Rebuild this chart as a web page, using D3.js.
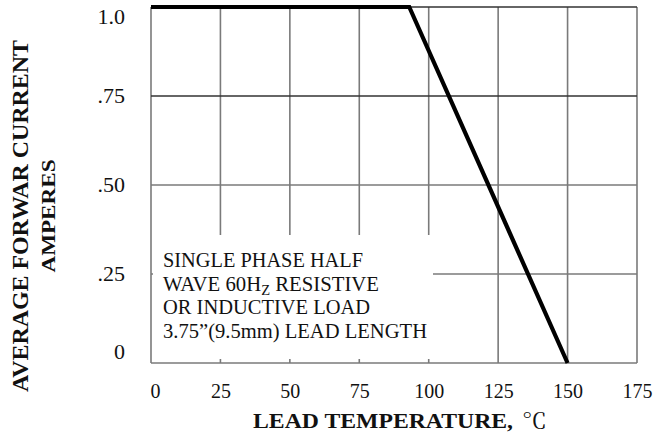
<!DOCTYPE html>
<html>
<head>
<meta charset="utf-8">
<script src="https://cdn.jsdelivr.net/npm/d3@7"></script>
<style>
  html, body { margin: 0; padding: 0; background: #fff; }
  svg { display: block; }
</style>
</head>
<body>
<svg id="chart" width="656" height="448"></svg>
<script>
// ---- data ----
const temperature = [0, 93, 150];          // lead temperature, °C
const current = [1.0, 1.0, 0.0];           // average forward current, A
const xTicks = [0, 25, 50, 75, 100, 125, 150, 175];
const yTicks = [0, 0.25, 0.5, 0.75, 1.0];
const yTickLabels = ["0", ".25", ".50", ".75", "1.0"];
const noteLines = ["SINGLE PHASE HALF", "WAVE 60H|Z| RESISTIVE", "OR INDUCTIVE LOAD", "3.75\u201d(9.5mm) LEAD LENGTH"];
const xTitle = "LEAD TEMPERATURE,";
const xUnit = "\u2103";
const yTitle1 = "AVERAGE FORWAR CURRENT";
const yTitle2 = "AMPERES";

// ---- layout ----
const SERIF = "'Liberation Serif'";
const svg = d3.select("#chart");
const pL = 151, pR = 637, pT = 7, pB = 363;
const x = d3.scaleLinear().domain([0, 175]).range([pL, pR]);
const y = d3.scaleLinear().domain([0, 1]).range([pB, pT]);
const noteWidths = [200, 216, 207, 264];

// grid
const grid = svg.append("g");
grid.selectAll("line.v").data(xTicks).join("line")
  .attr("x1", d => x(d)).attr("x2", d => x(d))
  .attr("y1", y(0)).attr("y2", y(1))
  .attr("stroke", "#7a7a7a").attr("stroke-width", 1.6);
grid.selectAll("line.h").data(yTicks).join("line")
  .attr("x1", x(0)).attr("x2", x(175))
  .attr("y1", d => y(d)).attr("y2", d => y(d))
  .attr("stroke", d => (d === 0.75 || d === 1) ? "#333" : "#7a7a7a")
  .attr("stroke-width", d => (d === 0.75 || d === 1) ? 1.3 : 1.6);

// note box (white background covering grid)
const nb = svg.append("g");
nb.append("rect").attr("x", x(0) + 2).attr("y", 235)
  .attr("width", 280).attr("height", 124).attr("fill", "#fff");
noteLines.forEach((ln, i) => {
  const t = nb.append("text").attr("font-family", SERIF).attr("fill", "#111")
    .attr("font-size", 20).attr("x", 163).attr("y", 267 + i * 23.7)
    .attr("textLength", noteWidths[i]).attr("lengthAdjust", "spacingAndGlyphs");
  const parts = ln.split("|");
  if (parts.length === 1) { t.text(ln); }
  else {
    t.append("tspan").text(parts[0]);
    t.append("tspan").attr("font-size", 14).attr("dy", 4).text(parts[1]);
    t.append("tspan").attr("dy", -4).text(parts[2]);
  }
});

// axes
const xAxis = svg.append("g").attr("transform", `translate(0,${pB})`)
  .call(d3.axisBottom(x).tickValues(xTicks).tickSize(0).tickPadding(21).tickFormat(d3.format("d")));
xAxis.select(".domain").remove();
xAxis.attr("font-size", 20);
xAxis.selectAll("text").attr("fill", "#111").attr("font-family", SERIF);
xAxis.selectAll(".tick").filter(d => d === 0).select("text").attr("x", 4);

const yAxis = svg.append("g").attr("transform", `translate(${pL},0)`)
  .call(d3.axisLeft(y).tickValues(yTicks).tickSize(0).tickPadding(26)
    .tickFormat((d, i) => yTickLabels[i]));
yAxis.select(".domain").remove();
yAxis.attr("font-size", 22);
yAxis.selectAll("text").attr("fill", "#111").attr("font-family", SERIF);
yAxis.selectAll(".tick").attr("transform", d => `translate(0,${Math.min(Math.max(y(d), 17), 352)})`);

// derating curve
svg.append("path")
  .datum(temperature.map((t, i) => [t, current[i]]))
  .attr("d", d3.line().x(d => x(d[0])).y(d => y(d[1])))
  .attr("fill", "none").attr("stroke", "#000").attr("stroke-width", 4.2)
  .attr("stroke-linejoin", "miter");

// x title
svg.append("text").attr("x", 253).attr("y", 428).attr("font-size", 22)
  .attr("font-family", SERIF).attr("fill", "#111")
  .attr("font-weight", "bold").attr("textLength", 260).attr("lengthAdjust", "spacingAndGlyphs")
  .text(xTitle);
svg.append("text").attr("x", 522).attr("y", 428).attr("font-size", 21)
  .attr("font-family", "'Noto Serif CJK SC'").attr("fill", "#111")
  .attr("textLength", 25).attr("lengthAdjust", "spacingAndGlyphs").text(xUnit);

// y title
svg.append("text").attr("transform", "translate(28,216) rotate(-90)")
  .attr("font-family", SERIF).attr("fill", "#111")
  .attr("text-anchor", "middle").attr("font-weight", "bold").attr("font-size", 23)
  .attr("textLength", 352).attr("lengthAdjust", "spacingAndGlyphs")
  .text(yTitle1);
svg.append("text").attr("transform", "translate(55,216) rotate(-90)")
  .attr("font-family", SERIF).attr("fill", "#111")
  .attr("text-anchor", "middle").attr("font-weight", "bold").attr("font-size", 18)
  .attr("textLength", 113).attr("lengthAdjust", "spacingAndGlyphs")
  .text(yTitle2);
</script>
</body>
</html>
